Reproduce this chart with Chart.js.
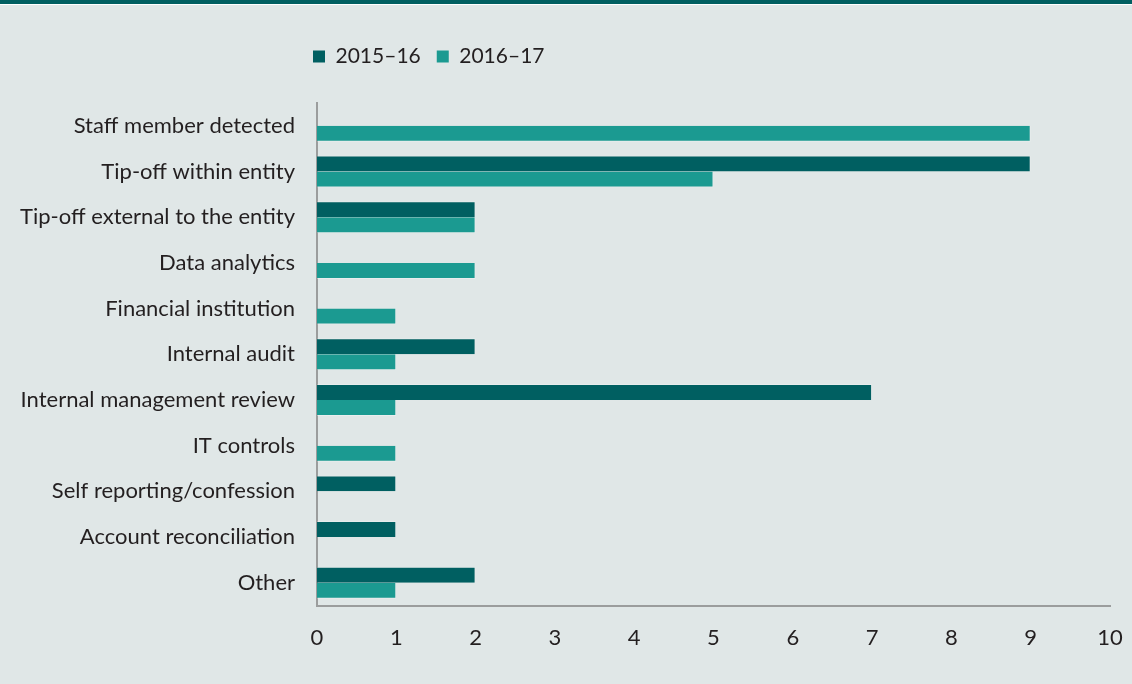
<!DOCTYPE html>
<html>
<head>
<meta charset="utf-8">
<script src="https://cdn.jsdelivr.net/npm/chart.js@4/dist/chart.umd.min.js"></script>
<style>
  html, body { margin: 0; padding: 0; }
  body { width: 1132px; height: 684px; background: #e0e7e7; position: relative; overflow: hidden; }
  .band { position: absolute; left: 0; top: 0; width: 1132px; height: 4px; background: #005f61; }
  .rule { position: absolute; left: 0; top: 4px; width: 1132px; height: 1px; background: #ffffff; }
  .wrap { position: absolute; left: 0; top: 0; width: 1132px; height: 684px; }
</style>
</head>
<body>
<div class="band"></div>
<div class="rule"></div>
<div class="wrap"><canvas id="chart" width="1132" height="684"></canvas></div>
<script>
// Detection methods for fraud cases, counted by year
const categories = [
  'Staff member detected',
  'Tip-off within entity',
  'Tip-off external to the entity',
  'Data analytics',
  'Financial institution',
  'Internal audit',
  'Internal management review',
  'IT controls',
  'Self reporting/confession',
  'Account reconciliation',
  'Other'
];
const series2015_16 = [0, 9, 2, 0, 0, 2, 7, 0, 1, 1, 2];
const series2016_17 = [9, 5, 2, 2, 1, 1, 1, 1, 0, 0, 1];
const xTicks = [0, 1, 2, 3, 4, 5, 6, 7, 8, 9, 10];

const FONT = 'Lato, "Open Sans", sans-serif';
const TEXT = '#231f20';
const AXIS = '#9b9d9d';

// Keep the legend above the plot, starting just left of the value axis
const legendShift = {
  id: 'legendShift',
  afterLayout(chart) {
    const lg = chart.legend;
    if (lg) {
      const w = lg.width, h = lg.height;
      lg.left = chart.chartArea.left - 4 - lg.options.labels.padding;
      lg.right = lg.left + w;
      lg.top = 26 + (20 - lg.options.labels.padding);
      lg.bottom = lg.top + h;
    }
  }
};

new Chart(document.getElementById('chart'), {
  type: 'bar',
  data: {
    labels: categories,
    datasets: [
      {
        label: '2015–16',
        data: series2015_16,
        backgroundColor: '#005f61',
        borderColor: 'rgba(255,255,255,0.22)',
        borderWidth: { top: 1, right: 1, bottom: 0, left: 0 },
        borderSkipped: 'start'
      },
      {
        label: '2016–17',
        data: series2016_17,
        backgroundColor: '#1b9a91',
        borderColor: 'rgba(255,255,255,0.3)',
        borderWidth: { top: 0, right: 1, bottom: 1, left: 0 },
        borderSkipped: 'start'
      }
    ]
  },
  options: {
    indexAxis: 'y',
    responsive: false,
    animation: false,
    datasets: { bar: { categoryPercentage: 0.7, barPercentage: 1.0 } },
    layout: { padding: { top: 56, right: 22, bottom: 14, left: 0 } },
    plugins: {
      legend: {
        position: 'top',
        align: 'start',
        fullSize: false,
        labels: {
          boxWidth: 12,
          boxHeight: 12,
          padding: 16,
          color: TEXT,
          font: { family: FONT, size: 21 },
          generateLabels(chart) {
            return chart.data.datasets.map((ds, i) => ({
              text: ds.label,
              fillStyle: ds.backgroundColor,
              strokeStyle: ds.backgroundColor,
              lineWidth: 0,
              fontColor: TEXT,
              datasetIndex: i,
              hidden: false
            }));
          }
        }
      },
      tooltip: { enabled: false }
    },
    scales: {
      x: {
        min: 0,
        max: 10,
        afterBuildTicks(scale) { scale.ticks = xTicks.map(v => ({ value: v })); },
        grid: { display: false, drawTicks: false },
        border: { display: true, color: AXIS, width: 2 },
        ticks: { color: TEXT, font: { family: FONT, size: 22 }, padding: 19 },
        afterFit(scale) { scale.paddingLeft = 0; scale.paddingRight = 0; }
      },
      y: {
        grid: { display: false, drawTicks: false },
        border: { display: true, color: AXIS, width: 2 },
        ticks: { color: TEXT, font: { family: FONT, size: 22 }, padding: 22, autoSkip: false },
        afterFit(scale) { scale.width = 317; }
      }
    }
  },
  plugins: [legendShift]
});
</script>
</body>
</html>
